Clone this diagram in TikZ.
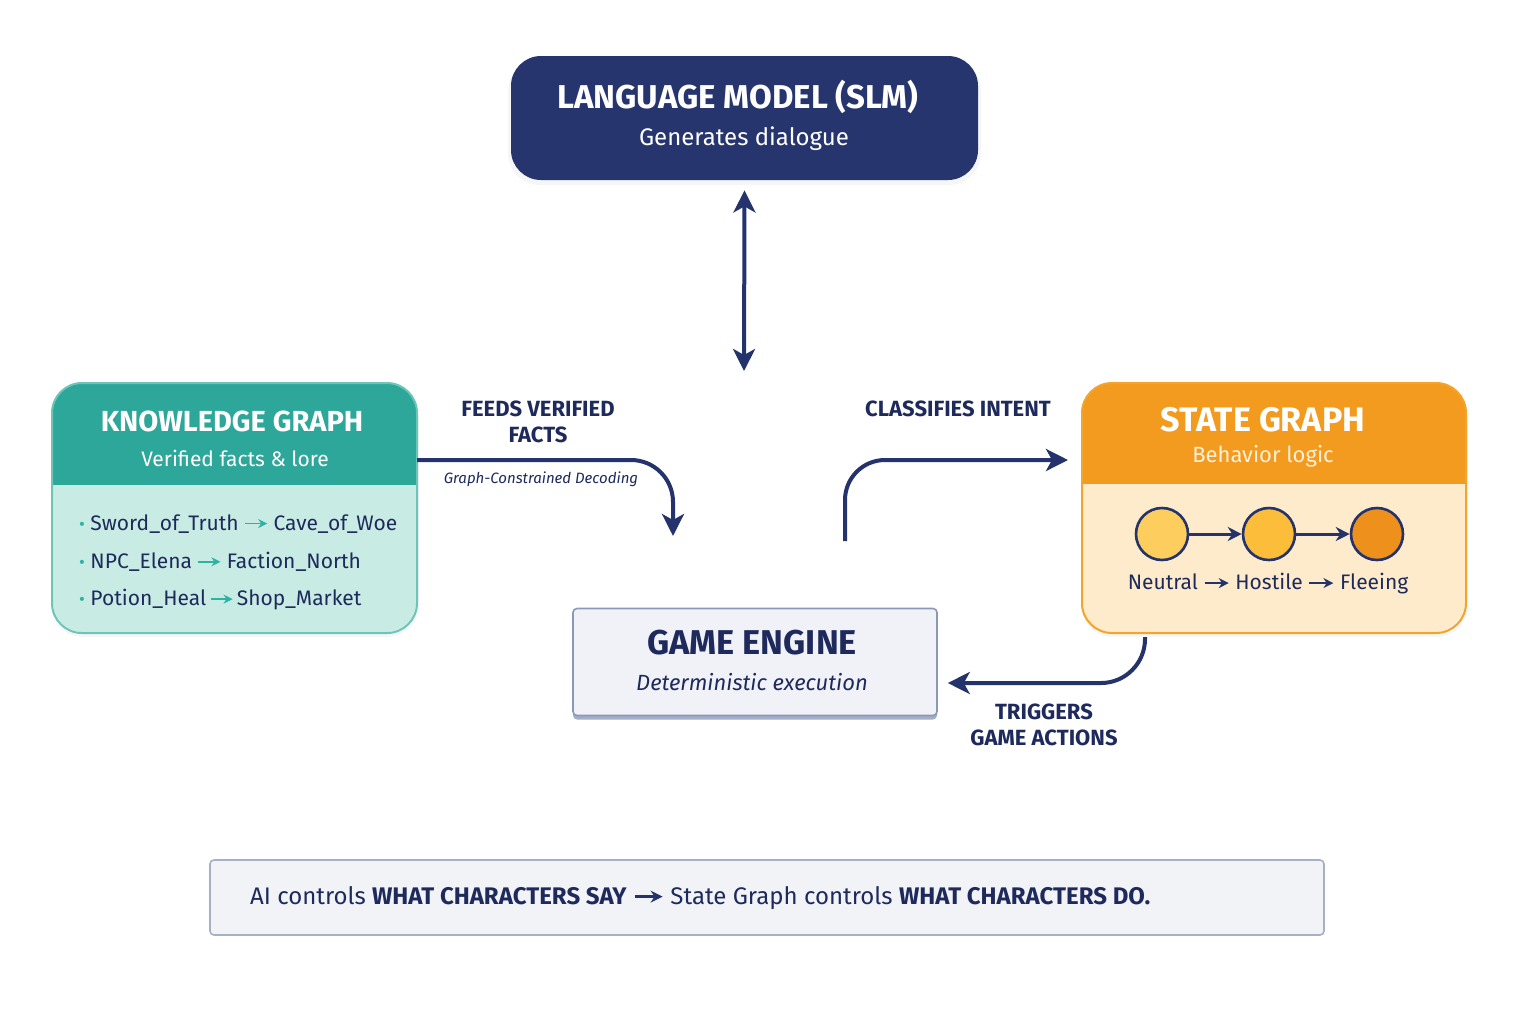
\documentclass[tikz,border=0pt]{standalone}
\usepackage{fontspec}
\setmainfont{Fira Sans}
\usetikzlibrary{arrows.meta,calc}
\definecolor{lmblue}{HTML}{26356E}
\definecolor{navy}{HTML}{1E2A5C}
\definecolor{arrnavy}{HTML}{24336B}
\definecolor{kghead}{HTML}{2EA79B}
\definecolor{kgbody}{HTML}{C8EBE4}
\definecolor{kgborder}{HTML}{6CC5B8}
\definecolor{kgteal}{HTML}{2BB3A5}
\definecolor{sghead}{HTML}{F39B1F}
\definecolor{sgbody}{HTML}{FDEBCB}
\definecolor{sgborder}{HTML}{F3A42A}
\definecolor{sgsub}{HTML}{FEF1DA}
\definecolor{cA}{HTML}{FDCD5E}
\definecolor{cB}{HTML}{FBBD3A}
\definecolor{cC}{HTML}{EE901C}
\definecolor{gefill}{HTML}{F1F2F7}
\definecolor{geborder}{HTML}{8C98B8}
\definecolor{geshadow}{HTML}{A3AECB}
\definecolor{botfill}{HTML}{F2F3F7}
\definecolor{botborder}{HTML}{A8B0C5}
\newcommand{\karr}{\tikz[baseline=-0.62ex]\draw[kgteal,line width=0.9pt,-{Stealth[length=4.5pt,width=4.5pt]}] (0pt,0pt)--(11pt,0pt);}
\newcommand{\sarr}{\tikz[baseline=-0.62ex]\draw[arrnavy,line width=1.1pt,-{Stealth[length=5pt,width=5pt]}] (0pt,0pt)--(12pt,0pt);}
\newcommand{\barr}{\tikz[baseline=-0.62ex]\draw[arrnavy,line width=1.5pt,-{Stealth[length=6pt,width=6pt]}] (0pt,0pt)--(14pt,0pt);}
\begin{document}
\begin{tikzpicture}[x=0.5pt,y=-0.5pt,
  flow/.style={arrnavy,line width=2pt,-{Stealth[length=11pt,width=11pt,inset=3pt]}},
  lbl/.style={text=navy,font=\bfseries\fontsize{11}{13}\selectfont,align=center},
  panel/.style={rounded corners=15pt,minimum width=#1,minimum height=124pt,inner sep=0pt,line width=1pt},
  statenode/.style={circle,draw=arrnavy,line width=1.3pt,minimum size=26pt,inner sep=0pt},
  item/.style={anchor=west,text=navy,font=\fontsize{10.5}{13}\selectfont},
]
\useasboundingbox (0,0) rectangle (1536,1024);
\fill[white] (0,0) rectangle (1536,1024);

% ---------- Language model ----------
\fill[black,opacity=0.035,rounded corners=16pt] (508,59) rectangle (981,185);
\node[fill=lmblue,rounded corners=15pt,minimum width=233.5pt,minimum height=62pt,inner sep=0pt] (lm) at (744.5,118) {};
\node[text=white,font=\bfseries\fontsize{16.5}{19}\selectfont] (lmt) at (738,97) {LANGUAGE MODEL (SLM)};
\node[text=white,font=\fontsize{12}{14}\selectfont] (lms) at (744,139) {Generates dialogue};

\coordinate (lmlow) at (744,371);
\draw[flow,{Stealth[length=11pt,width=11pt,inset=3pt]}-{Stealth[length=11pt,width=11pt,inset=3pt]}] ([yshift=-5pt]lm.south) -- (lmlow);

% ---------- Knowledge graph ----------
\fill[black,opacity=0.035,rounded corners=16pt] (51,388) rectangle (419,637);
\node[panel=181.5pt,fill=kgbody] (kg) at (234.5,508) {};
\coordinate (kgh) at (0,485);
\begin{scope}
\clip[rounded corners=15pt] (kg.north west) rectangle (kg.south east);
\fill[kghead] (kg.north west) rectangle (kg.east |- kgh);
\end{scope}
\draw[kgborder,line width=1pt,rounded corners=15pt] (kg.north west) rectangle (kg.south east);
\node[text=white,font=\bfseries\fontsize{14.5}{17}\selectfont] (kgt) at (232,421) {KNOWLEDGE GRAPH};
\node[text=white,font=\fontsize{10.5}{13}\selectfont] (kgs) at (235,458) {Verified facts \& lore};
\node[item] (k1) at (72,524) {\textcolor{kgteal}{\small•}\ Sword\_of\_Truth \karr\ Cave\_of\_Woe};
\node[item] (k2) at (72,562) {\textcolor{kgteal}{\small•}\ NPC\_Elena \karr\ Faction\_North};
\node[item] (k3) at (72,600) {\textcolor{kgteal}{\small•}\ Potion\_Heal\,\karr\,Shop\_Market};

% ---------- State graph ----------
\fill[black,opacity=0.035,rounded corners=16pt] (1081,388) rectangle (1468,637);
\node[panel=191pt,fill=sgbody] (sg) at (1274,508) {};
\coordinate (sgh) at (0,484);
\begin{scope}
\clip[rounded corners=15pt] (sg.north west) rectangle (sg.south east);
\fill[sghead] (sg.north west) rectangle (sg.east |- sgh);
\end{scope}
\draw[sgborder,line width=1pt,rounded corners=15pt] (sg.north west) rectangle (sg.south east);
\node[text=white,font=\bfseries\fontsize{17}{20}\selectfont] (sgt) at (1263,420) {STATE GRAPH};
\node[text=sgsub,font=\fontsize{11}{13}\selectfont] (sgs) at (1263,456) {Behavior logic};
\node[statenode,fill=cA] (s1) at (1162,534) {};
\node[statenode,fill=cB] (s2) at (1269,534) {};
\node[statenode,fill=cC] (s3) at (1377,534) {};
\draw[arrnavy,line width=1.5pt,-{Stealth[length=7pt,width=7pt]}] (s1) -- (s2);
\draw[arrnavy,line width=1.5pt,-{Stealth[length=7pt,width=7pt]}] (s2) -- (s3);
\node[text=navy,font=\fontsize{10.5}{13}\selectfont] (sl) at (1268,584) {Neutral \sarr\ Hostile \sarr\ Fleeing};

% ---------- Game engine ----------
\node[fill=geshadow,rounded corners=2pt,minimum width=182pt,minimum height=53.5pt,inner sep=0pt] (gesh) at (755,666) {};
\node[fill=gefill,draw=geborder,line width=0.8pt,rounded corners=2pt,minimum width=182pt,minimum height=53.5pt,inner sep=0pt] (ge) at (755,662) {};
\node[text=navy,font=\bfseries\fontsize{17.2}{20}\selectfont] (get) at (752,643) {GAME ENGINE};
\node[text=navy,font=\itshape\fontsize{11}{13}\selectfont] (ges) at (752,682) {Deterministic execution};

% ---------- Connectors ----------
\coordinate (fy) at (0,460);
\coordinate (gein) at (673,536);
\draw[flow,rounded corners=21pt] (kg.east |- fy) -- (673,460) -- (gein);
\node[lbl] (feeds) at (538,422) {FEEDS VERIFIED\\FACTS};
\node[text=navy,font=\itshape\fontsize{7.5}{9}\selectfont] (gcd) at (541,479) {Graph-Constrained Decoding};

\coordinate (geout) at (845,541);
\draw[flow,rounded corners=20pt] (geout) -- (845,460) -- ([xshift=-7pt]sg.west |- fy);
\node[lbl] (cls) at (958,409) {CLASSIFIES INTENT};

\coordinate (ty) at (0,683);
\draw[flow,rounded corners=22pt] ([yshift=-2pt]sg.south -| 1145,0) -- (1145,683) -- ([xshift=5pt]ge.east |- ty);
\node[lbl] (trig) at (1044,725) {TRIGGERS\\GAME ACTIONS};

% ---------- Bottom note ----------
\node[fill=botfill,draw=botborder,line width=0.8pt,rounded corners=2pt,minimum width=557pt,minimum height=37.5pt,inner sep=0pt] (bot) at (767,897.5) {};
\node[anchor=west,text=navy,font=\fontsize{12}{14}\selectfont] (bott) at (243,898) {AI controls \textbf{WHAT CHARACTERS SAY} \barr\ State Graph controls \textbf{WHAT CHARACTERS DO.}};
\end{tikzpicture}
\end{document}
